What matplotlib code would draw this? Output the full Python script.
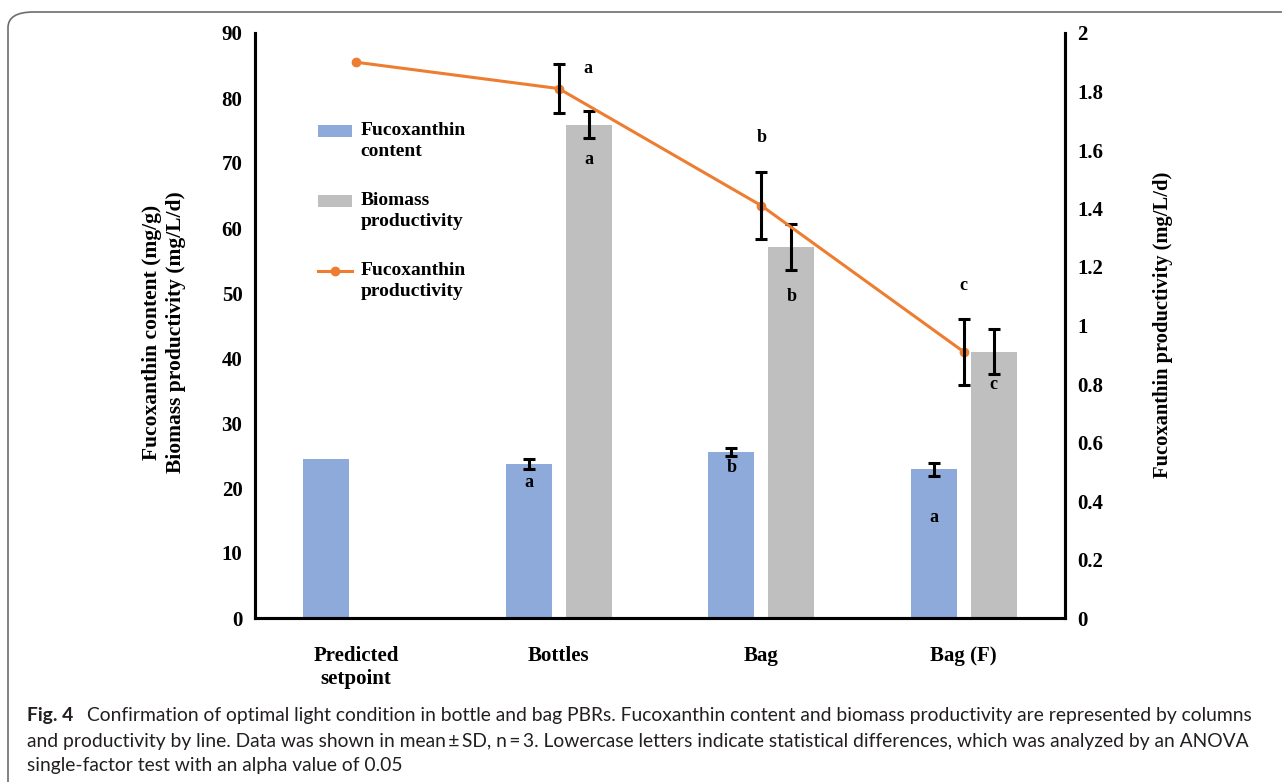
import matplotlib
matplotlib.use("Agg")
import matplotlib.pyplot as plt
from matplotlib.patches import FancyBboxPatch, Patch
from matplotlib.lines import Line2D
from matplotlib.ticker import FuncFormatter
from matplotlib.legend_handler import HandlerPatch, HandlerLine2D
from matplotlib.transforms import Affine2D
import numpy as np

# ---------------- data ----------------
categories = ["Predicted\nsetpoint", "Bottles", "Bag", "Bag (F)"]
fuco_content = [24.5, 23.7, 25.6, 22.9]
fuco_content_sd = [0.0, 0.8, 0.6, 1.0]
biomass_prod = [75.9, 57.1, 41.0]          # Bottles, Bag, Bag (F)
biomass_prod_sd = [2.1, 3.5, 3.4]
fuco_prod = [1.90, 1.81, 1.41, 0.91]
fuco_prod_sd = [0.0, 0.085, 0.115, 0.113]
letters_content = ["a", "b", "a"]
letters_biomass = ["a", "b", "c"]
letters_prod = ["a", "b", "c"]
left_ticks = [0, 10, 20, 30, 40, 50, 60, 70, 80, 90]
right_ticks = [0, 0.2, 0.4, 0.6, 0.8, 1.0, 1.2, 1.4, 1.6, 1.8, 2.0]

# ---------------- style ----------------
BLUE = "#8EAADB"
GREY = "#BFBFBF"
ORANGE = "#ED7D31"
SERIF = "Liberation Serif"
plt.rcParams["font.family"] = SERIF
plt.rcParams["font.weight"] = "bold"

W, H = 1282, 782
fig = plt.figure(figsize=(W / 100, H / 100), dpi=100)

# rounded frame (open to the right and bottom)
frame = FancyBboxPatch((8 / W, -0.2), 1.3, 1 - 12 / H + 0.2,
                       boxstyle="round,pad=0,rounding_size=0.02",
                       transform=fig.transFigure, facecolor="none",
                       edgecolor="#6d6d6d", linewidth=1.2, zorder=0)
fig.add_artist(frame)

ax = fig.add_axes([255 / W, 1 - 618 / H, (1065 - 255) / W, (618 - 33) / H])
ax2 = ax.twinx()

x = np.arange(len(categories))
off = 0.148
bw = 0.227
eb = dict(fmt="none", ecolor="black", elinewidth=2.2, capsize=4, capthick=2.2)

ax.bar(x - off, fuco_content, width=bw, color=BLUE, zorder=2)
ax.errorbar(x[1:] - off, fuco_content[1:], yerr=fuco_content_sd[1:], zorder=3, **eb)
ax.bar(x[1:] + off, biomass_prod, width=bw, color=GREY, zorder=2)
ax.errorbar(x[1:] + off, biomass_prod, yerr=biomass_prod_sd, zorder=3, **eb)

ax2.plot(x, fuco_prod, color=ORANGE, linewidth=2.2, marker="o", markersize=6, zorder=3)
ax2.errorbar(x[1:], fuco_prod[1:], yerr=fuco_prod_sd[1:], zorder=4, **eb)

ax.set_xlim(-0.5, 3.5)
ax.set_ylim(0, 90)
ax2.set_ylim(0, 2)
ax.set_yticks(left_ticks)
ax2.set_yticks(right_ticks)
ax2.yaxis.set_major_formatter(FuncFormatter(lambda v, p: f"{v:g}"))
ax.set_xticks(x)
ax.set_xticklabels(categories, fontsize=15, fontweight="bold")
ax.tick_params(axis="x", length=0, pad=20)
ax.tick_params(axis="y", length=0, pad=9, labelsize=15)
ax2.tick_params(axis="y", length=0, pad=9, labelsize=15)

for a in (ax, ax2):
    a.spines["top"].set_visible(False)
    for s in ("left", "right", "bottom"):
        a.spines[s].set_linewidth(2.2)
        a.spines[s].set_color("black")
    a.set_facecolor("none")

# significance letters
lfs = 13
dy_content = [-19, -16, -48]
for xi, yi, t, dy in zip(x[1:] - off, fuco_content[1:], letters_content, dy_content):
    ax.annotate(t, (xi, yi), xytext=(0, dy), textcoords="offset pixels",
                ha="center", va="center", fontsize=lfs, fontweight="bold")
dy_bio = [-35, -50, -33]
for xi, yi, t, dy in zip(x[1:] + off, biomass_prod, letters_biomass, dy_bio):
    ax.annotate(t, (xi, yi), xytext=(0, dy), textcoords="offset pixels",
                ha="center", va="center", fontsize=lfs, fontweight="bold")
d_prod = [(29, -5), (0, 34), (0, 33)]
for xi, yi, sd, t, (dx, dy) in zip(x[1:], fuco_prod[1:], fuco_prod_sd[1:], letters_prod, d_prod):
    ax2.annotate(t, (xi, yi + sd), xytext=(dx, dy), textcoords="offset pixels",
                 ha="center", va="center", fontsize=lfs, fontweight="bold")

# axis titles
fig.text(164 / W, 1 - 332 / H, "Fucoxanthin content (mg/g)\nBiomass productivity (mg/L/d)",
         rotation=90, ha="center", va="center", multialignment="center",
         fontsize=15.5, fontweight="bold", linespacing=1.3)
fig.text(1163 / W, 1 - 325 / H, "Fucoxanthin productivity (mg/L/d)",
         rotation=90, ha="center", va="center", fontsize=14.8, fontweight="bold")


# legend (handles aligned with the first label line)
def shifted(handler_cls, dy):
    class _H(handler_cls):
        def create_artists(self, legend, orig_handle, xdescent, ydescent,
                           width, height, fontsize, trans):
            arts = super().create_artists(legend, orig_handle, xdescent, ydescent,
                                          width, height, fontsize, trans)
            t = Affine2D().translate(0, dy) + trans
            for art in arts:
                art.set_transform(t)
            return arts
    return _H()


h_blue = Patch(facecolor=BLUE, edgecolor="none")
h_grey = Patch(facecolor=GREY, edgecolor="none")
h_line = Line2D([0], [0], color=ORANGE, lw=2.2, marker="o", markersize=6)
labels = ["Fucoxanthin\ncontent", "Biomass\nproductivity", "Fucoxanthin\nproductivity"]
shift = 7
leg = fig.legend([h_blue, h_grey, h_line], labels, loc="upper left",
                 bbox_to_anchor=(318 / W, 1 - 122 / H),
                 bbox_transform=fig.transFigure, frameon=False, borderpad=0,
                 borderaxespad=0, handlelength=1.75, handleheight=0.62, handletextpad=0.45,
                 labelspacing=1.65, prop={"family": SERIF, "weight": "bold", "size": 14},
                 handler_map={h_blue: shifted(HandlerPatch, shift),
                              h_grey: shifted(HandlerPatch, shift),
                              h_line: shifted(HandlerLine2D, shift)})
for t in leg.get_texts():
    t.set_linespacing(1.3)

# caption
cap_font = ["Lato", "DejaVu Sans"]
cap_col = "#231f20"
cfs = 13.9
fig.text(27 / W, 1 - 716 / H, "Fig. 4", family=cap_font, fontweight="bold",
         fontsize=cfs, color=cap_col, va="center", ha="left")
fig.text(87 / W, 1 - 716 / H,
         "Confirmation of optimal light condition in bottle and bag PBRs. Fucoxanthin content and biomass productivity are represented by columns",
         family=cap_font, fontweight="normal", fontsize=cfs, color=cap_col, va="center", ha="left")
fig.text(27 / W, 1 - 741 / H,
         "and productivity by line. Data was shown in mean\u2009\u00b1\u2009SD, n\u2009=\u20093. Lowercase letters indicate statistical differences, which was analyzed by an ANOVA",
         family=cap_font, fontweight="normal", fontsize=cfs, color=cap_col, va="center", ha="left")
fig.text(27 / W, 1 - 766 / H,
         "single-factor test with an alpha value of 0.05",
         family=cap_font, fontweight="normal", fontsize=cfs, color=cap_col, va="center", ha="left")

fig.savefig("out.png", dpi=100)
